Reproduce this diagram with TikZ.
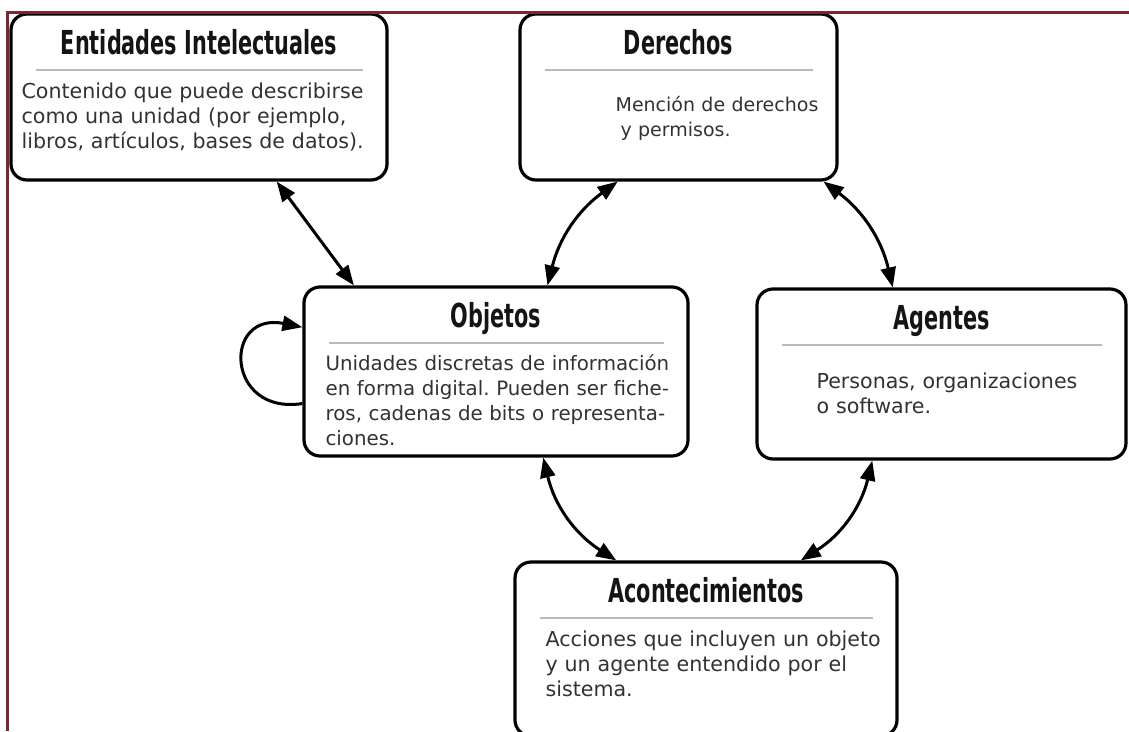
\documentclass[tikz,border=0pt]{standalone}
\usepackage{fontspec}
\setmainfont{DejaVu Sans}
\newfontfamily\titlefont{DejaVu Sans}[FakeStretch=0.63]
\usetikzlibrary{arrows.meta,calc}
\definecolor{framered}{RGB}{125,38,45}
\definecolor{bodygray}{RGB}{50,50,50}
\definecolor{titleblack}{RGB}{20,20,20}
\definecolor{rulegray}{RGB}{185,185,185}
\frenchspacing
\begin{document}
\begin{tikzpicture}[x=1pt,y=-1pt,
    box/.style={draw=black,line width=3.2pt,rounded corners=16pt,fill=white,inner sep=0pt},
    title/.style={anchor=base,inner sep=0pt,text=titleblack,font=\titlefont\bfseries\fontsize{33}{36}\selectfont},
    body/.style={anchor=base west,inner sep=0pt,align=left,text width=360pt,text=bodygray,font=\fontsize{20.6}{25}\selectfont},
    rule/.style={draw=rulegray,line width=2pt},
    link/.style={line width=3pt,{Triangle[length=20pt,width=15pt]}-{Triangle[length=20pt,width=15pt]}},
    selfloop/.style={line width=3pt,-{Triangle[length=20pt,width=15pt]}}]
    \useasboundingbox (0,0) rectangle (1129,731);

    % boxes
    \node (ent) [box,minimum width=376pt,minimum height=166pt] at (199,97) {};
    \node (der) [box,minimum width=317pt,minimum height=166pt] at (678.5,97) {};
    \node (obj) [box,minimum width=384pt,minimum height=169pt] at (496,371.5) {};
    \node (age) [box,minimum width=369pt,minimum height=170pt] at (941.5,374) {};
    \node (aco) [box,minimum width=382pt,minimum height=174pt] at (706,649) {};

    % frame
    \draw [framered,line width=3pt] (1129,12) -- (7,12) -- (7,731);

    % titles and rules
    \foreach \b/\t in {ent/Entidades Intelectuales,der/Derechos,obj/Objetos,age/Agentes,aco/Acontecimientos} {
        \node (\b T) [title] at ([yshift=-42pt]\b.north) {\t};
        \draw [rule] ([xshift=27pt,yshift=-58pt]\b.north west) -- ([xshift=-26pt,yshift=-58pt]\b.north east);
    }

    % texts
    \node (entB) [body] at ([xshift=12pt,yshift=-86pt]ent.north west)
        {Contenido que puede describirse\\como una unidad (por ejemplo,\\libros, artículos, bases de datos).};
    \node (derB) [body,font=\fontsize{19}{25}\selectfont] at ([xshift=97pt,yshift=-99pt]der.north west)
        {Mención de derechos\\\hspace*{5pt}y permisos.};
    \node (objB) [body,font=\fontsize{19.8}{25}\selectfont] at ([xshift=23pt,yshift=-85pt]obj.north west)
        {Unidades discretas de información\\en forma digital. Pueden ser fiche-\\ros, cadenas de bits o representa-\\ciones.};
    \node (ageB) [body] at ([xshift=61pt,yshift=-101pt]age.north west)
        {Personas, organizaciones\\o software.};
    \node (acoB) [body] at ([xshift=32pt,yshift=-86pt]aco.north west)
        {Acciones que incluyen un objeto\\y un agente entendido por el\\sistema.};

    % connectors
    \draw [link] ($(ent.south west)!0.705!(ent.south east)$) -- ($(obj.north west)!0.133!(obj.north east)$);
    \draw [link] ($(obj.north west)!0.633!(obj.north east)$) to[bend left=20] ($(der.south west)!0.31!(der.south east)$);
    \draw [link] ($(der.south west)!0.953!(der.south east)$) to[bend left=20] ($(age.north west)!0.369!(age.north east)$);
    \draw [link] ($(obj.south west)!0.622!(obj.south east)$) to[bend right=22] ($(aco.north west)!0.267!(aco.north east)$);
    \draw [link] ($(age.south west)!0.314!(age.south east)$) to[bend left=22] ($(aco.north west)!0.746!(aco.north east)$);
    \draw [selfloop] ($(obj.north west)!0.686!(obj.south west)$) .. controls +(-77,12) and +(-80,-16) .. ($(obj.north west)!0.243!(obj.south west)$);
\end{tikzpicture}
\end{document}
